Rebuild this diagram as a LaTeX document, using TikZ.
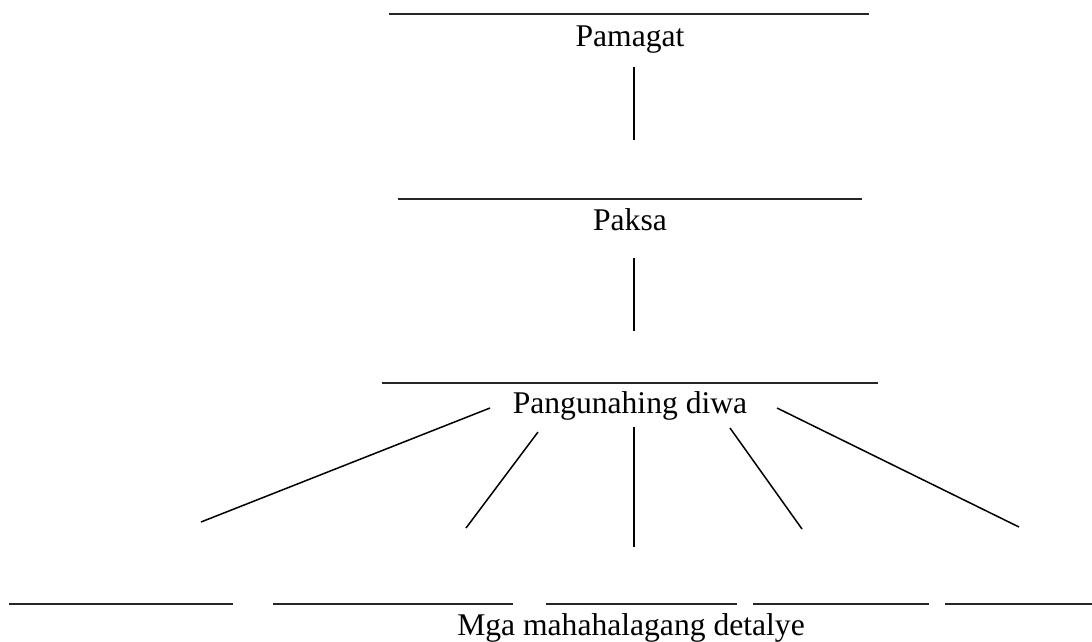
\documentclass[tikz,border=0pt]{standalone}
\usepackage{fontspec}
\setmainfont{Liberation Serif}
\usepackage{tikz}
\usetikzlibrary{calc}
\usetikzlibrary{positioning}

\begin{document}
\begin{tikzpicture}[x=1pt, y=-1pt, line width=1.5pt,
    lbl/.style={anchor=base, inner sep=0pt, font=\fontsize{31.6}{38}\selectfont},
    blank/.style={line width=1.4pt, black!85}]
        \useasboundingbox (0,0) rectangle (1092,641);

        % title
        \draw[blank] (389,14) -- (869,14);
        \node (pamagat) at (630,46) [lbl] {Pamagat};
        \coordinate (pa1) at (634,67);
        \coordinate (pa2) at (634,140);
        \draw (pa1) -- (pa2);

        % topic
        \draw[blank] (398,199) -- (862,199);
        \node (paksa) at (630,230) [lbl] {Paksa};
        \coordinate (pk1) at (634,258);
        \coordinate (pk2) at (634,331);
        \draw (pk1) -- (pk2);

        % main idea
        \draw[blank] (382,383) -- (878,383);
        \node (diwa) at (630,413) [lbl] {Pangunahing diwa};
        \coordinate (d1) at (490,408);
        \coordinate (d2) at (538,432);
        \coordinate (d3) at (634,427);
        \coordinate (d4) at (730,428);
        \coordinate (d5) at (777,408);
        \coordinate (e1) at (201,522);
        \coordinate (e2) at (466,528);
        \coordinate (e3) at (634,547);
        \coordinate (e4) at (802,529);
        \coordinate (e5) at (1019,527);
        \draw (d1) -- (e1);
        \draw (d2) -- (e2);
        \draw (d3) -- (e3);
        \draw (d4) -- (e4);
        \draw (d5) -- (e5);

        % details
        \draw[blank] (9,604) -- (233,604);
        \draw[blank] (273,604) -- (513,604);
        \draw[blank] (546,604) -- (737,604);
        \draw[blank] (753,604) -- (929,604);
        \draw[blank] (945,604) -- (1092,604);
        \node (detalye) at (631,635) [lbl] {Mga mahahalagang detalye};
    \end{tikzpicture}
\end{document}
